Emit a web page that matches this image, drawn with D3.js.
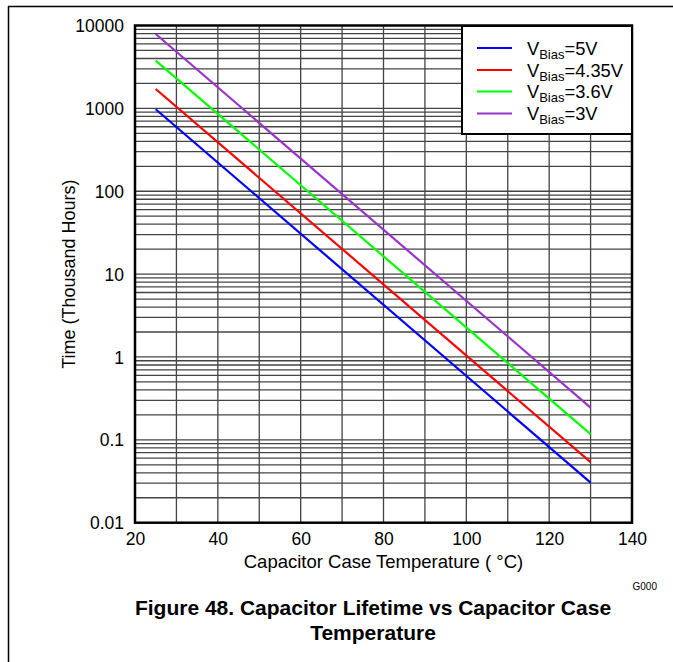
<!DOCTYPE html>
<html><head><meta charset="utf-8">
<script src="https://cdn.jsdelivr.net/npm/d3@7"></script>
<style>body{margin:0;background:#fff}svg{display:block}text{font-family:"Liberation Sans",Arial,sans-serif}</style>
</head><body>
<script>
const xTicks = [20, 40, 60, 80, 100, 120, 140];
const yTicks = [0.01, 0.1, 1, 10, 100, 1000, 10000];
const yTickLabels = ["0.01", "0.1", "1", "10", "100", "1000", "10000"];
const temps = [25, 130];
const seriesNames = ["5V", "4.35V", "3.6V", "3V"];
const seriesColors = ["#0000ff", "#ff0000", "#00ff00", "#9933cc"];
const v5 = [975, 0.0305];
const v435 = [1714, 0.0537];
const v36 = [3764, 0.117];
const v3 = [7895, 0.245];
const seriesValues = [v5, v435, v36, v3];

const W = 673, H = 662;
const L = 135, R = 632, T = 25.5, B = 522.7;
const svg = d3.select("body").append("svg").attr("width", W).attr("height", H);

// outer frame (top & left)
svg.append("line").attr("x1", 8).attr("x2", W).attr("y1", 6.5).attr("y2", 6.5).attr("stroke", "#000").attr("stroke-width", 1.5);
svg.append("line").attr("x1", 8.5).attr("x2", 8.5).attr("y1", 6).attr("y2", H).attr("stroke", "#000").attr("stroke-width", 1.5);

const x = d3.scaleLinear().domain([20, 140]).range([L, R]);
const y = d3.scaleLog().domain([0.01, 10000]).range([B, T]);

const g = svg.append("g");
const vgrid = d3.range(30, 140, 10);
g.selectAll(".vg").data(vgrid).enter().append("line")
  .attr("x1", d => x(d)).attr("x2", d => x(d)).attr("y1", T).attr("y2", B)
  .attr("stroke", "#444").attr("stroke-width", 1.3);
const hgrid = [];
for (let e = -2; e < 4; e++) for (let m = 1; m <= 9; m++) { const v = m * Math.pow(10, e); if (v > 0.01) hgrid.push(v); }
g.selectAll(".hg").data(hgrid).enter().append("line")
  .attr("x1", L).attr("x2", R).attr("y1", d => y(d)).attr("y2", d => y(d))
  .attr("stroke", "#444").attr("stroke-width", 1.3);

const line = d3.line().x((d, i) => x(temps[i])).y(d => y(d));
seriesValues.forEach((vals, i) => {
  svg.append("path").datum(vals).attr("d", line).attr("fill", "none")
    .attr("stroke", seriesColors[i]).attr("stroke-width", 2.2);
});

svg.append("rect").attr("x", L).attr("y", T).attr("width", R - L).attr("height", B - T)
  .attr("fill", "none").attr("stroke", "#000").attr("stroke-width", 2.5);

const FF = '"Liberation Sans",Arial,sans-serif';
const xAxis = d3.axisBottom(x).tickValues(xTicks).tickSize(0).tickPadding(0).tickFormat(d3.format("d"));
const xa = svg.append("g").attr("transform", `translate(0,${B})`).call(xAxis);
xa.select(".domain").remove();
xa.selectAll("text").attr("dy", null).attr("y", 22).attr("font-size", 17.5).attr("fill", "#000").attr("font-family", FF);

const yAxis = d3.axisLeft(y).tickValues(yTicks).tickSize(0).tickPadding(0).tickFormat((d, i) => yTickLabels[i]);
const ya = svg.append("g").attr("transform", `translate(${L},0)`).call(yAxis);
ya.select(".domain").remove();
ya.selectAll("text").attr("x", -11).attr("dy", "0.35em").attr("font-size", 17.5).attr("fill", "#000").attr("font-family", FF);

svg.append("text").attr("x", (L + R) / 2).attr("y", 568).attr("text-anchor", "middle").attr("font-size", 18.5).text("Capacitor Case Temperature ( °C)");
svg.append("text").attr("transform", `translate(75,${(T + B) / 2}) rotate(-90)`).attr("text-anchor", "middle").attr("font-size", 18).text("Time (Thousand Hours)");

svg.append("text").attr("x", 657).attr("y", 590).attr("text-anchor", "end").attr("font-size", 10).text("G000");
svg.append("text").attr("x", 373).attr("y", 615).attr("text-anchor", "middle").attr("font-size", 21).attr("font-weight", "bold").text("Figure 48. Capacitor Lifetime vs Capacitor Case");
svg.append("text").attr("x", 373).attr("y", 640).attr("text-anchor", "middle").attr("font-size", 21).attr("font-weight", "bold").text("Temperature");

const lg = svg.append("g");
lg.append("rect").attr("x", 462).attr("y", 26).attr("width", R - 462).attr("height", 108)
  .attr("fill", "#fff").attr("stroke", "#000").attr("stroke-width", 2);
const rowY = [48, 70, 91.5, 113.5];
seriesNames.forEach((n, i) => {
  lg.append("line").attr("x1", 477).attr("x2", 512).attr("y1", rowY[i]).attr("y2", rowY[i])
    .attr("stroke", seriesColors[i]).attr("stroke-width", 2.2);
  const t = lg.append("text").attr("x", 527).attr("y", rowY[i] + 6.5).attr("font-size", 18.3);
  t.append("tspan").text("V");
  t.append("tspan").attr("font-size", 13).attr("dy", 4).text("Bias");
  t.append("tspan").attr("dy", -4).text("=" + n);
});
</script>
</body></html>
